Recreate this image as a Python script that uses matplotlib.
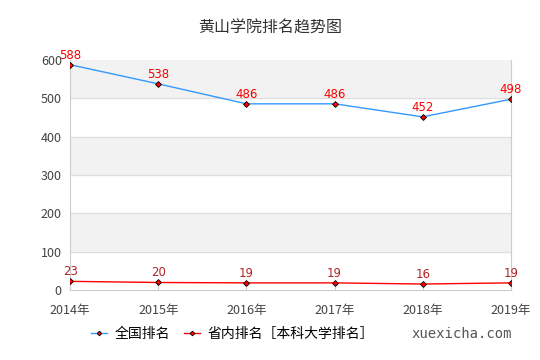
import matplotlib.pyplot as plt

plt.rcParams['font.family'] = ['Noto Sans CJK SC', 'DejaVu Sans']

# data
years = ['2014年', '2015年', '2016年', '2017年', '2018年', '2019年']
national_rank = [588, 538, 486, 486, 452, 498]
province_rank = [23, 20, 19, 19, 16, 19]

fig = plt.figure(figsize=(5.4, 3.6), dpi=100)
ax = fig.add_axes([0.13, 0.194, 0.816, 0.639])

x = range(len(years))

# alternating bands
for lo in [100, 300, 500]:
    ax.axhspan(lo, lo + 100, color='#f2f2f2', zorder=0)
for y in [100, 200, 300, 400, 500]:
    ax.axhline(y, color='#dddddd', lw=0.8, zorder=1)

ax.plot(x, national_rank, color='#3399ff', lw=1, marker='D', markersize=3,
        markerfacecolor='red', markeredgecolor='black', markeredgewidth=0.6,
        label='全国排名', zorder=3)
ax.plot(x, province_rank, color='#ff0000', lw=1, marker='D', markersize=3,
        markerfacecolor='red', markeredgecolor='black', markeredgewidth=0.6,
        label='省内排名［本科大学排名］', zorder=3)

for i, v in enumerate(national_rank):
    ax.text(i, v + 8, str(v), color='red', ha='center', va='bottom',
            fontsize=8.5, family='DejaVu Sans')
for i, v in enumerate(province_rank):
    ax.text(i, v + 8, str(v), color='#b22222', ha='center', va='bottom',
            fontsize=8.5, family='DejaVu Sans')

ax.set_xlim(0, 5)
ax.set_ylim(0, 600)
ax.set_xticks(list(x))
ax.set_xticklabels(years)
ax.set_yticks([0, 100, 200, 300, 400, 500, 600])
ax.tick_params(axis='both', labelsize=9, colors='#444444', length=0, pad=6)
ax.tick_params(axis='x', length=4, color='#cccccc', direction='in', pad=10)

for s in ['left', 'right', 'bottom']:
    ax.spines[s].set_color('#cccccc')
ax.spines['top'].set_visible(False)

fig.text(0.5, 0.922, '黄山学院排名趋势图', ha='center', va='center', fontsize=11.5, color='#333333')

ax.legend(loc='center left', bbox_to_anchor=(0.145, 0.072), bbox_transform=fig.transFigure,
          ncol=2, frameon=False, fontsize=10, handlelength=1.2, handletextpad=0.5,
          columnspacing=1.0, markerscale=0.8)

fig.text(0.948, 0.072, 'xuexicha.com', ha='right', va='center', fontsize=10,
         color='#555555', family='DejaVu Sans Mono')

plt.savefig('out.png', dpi=100)
